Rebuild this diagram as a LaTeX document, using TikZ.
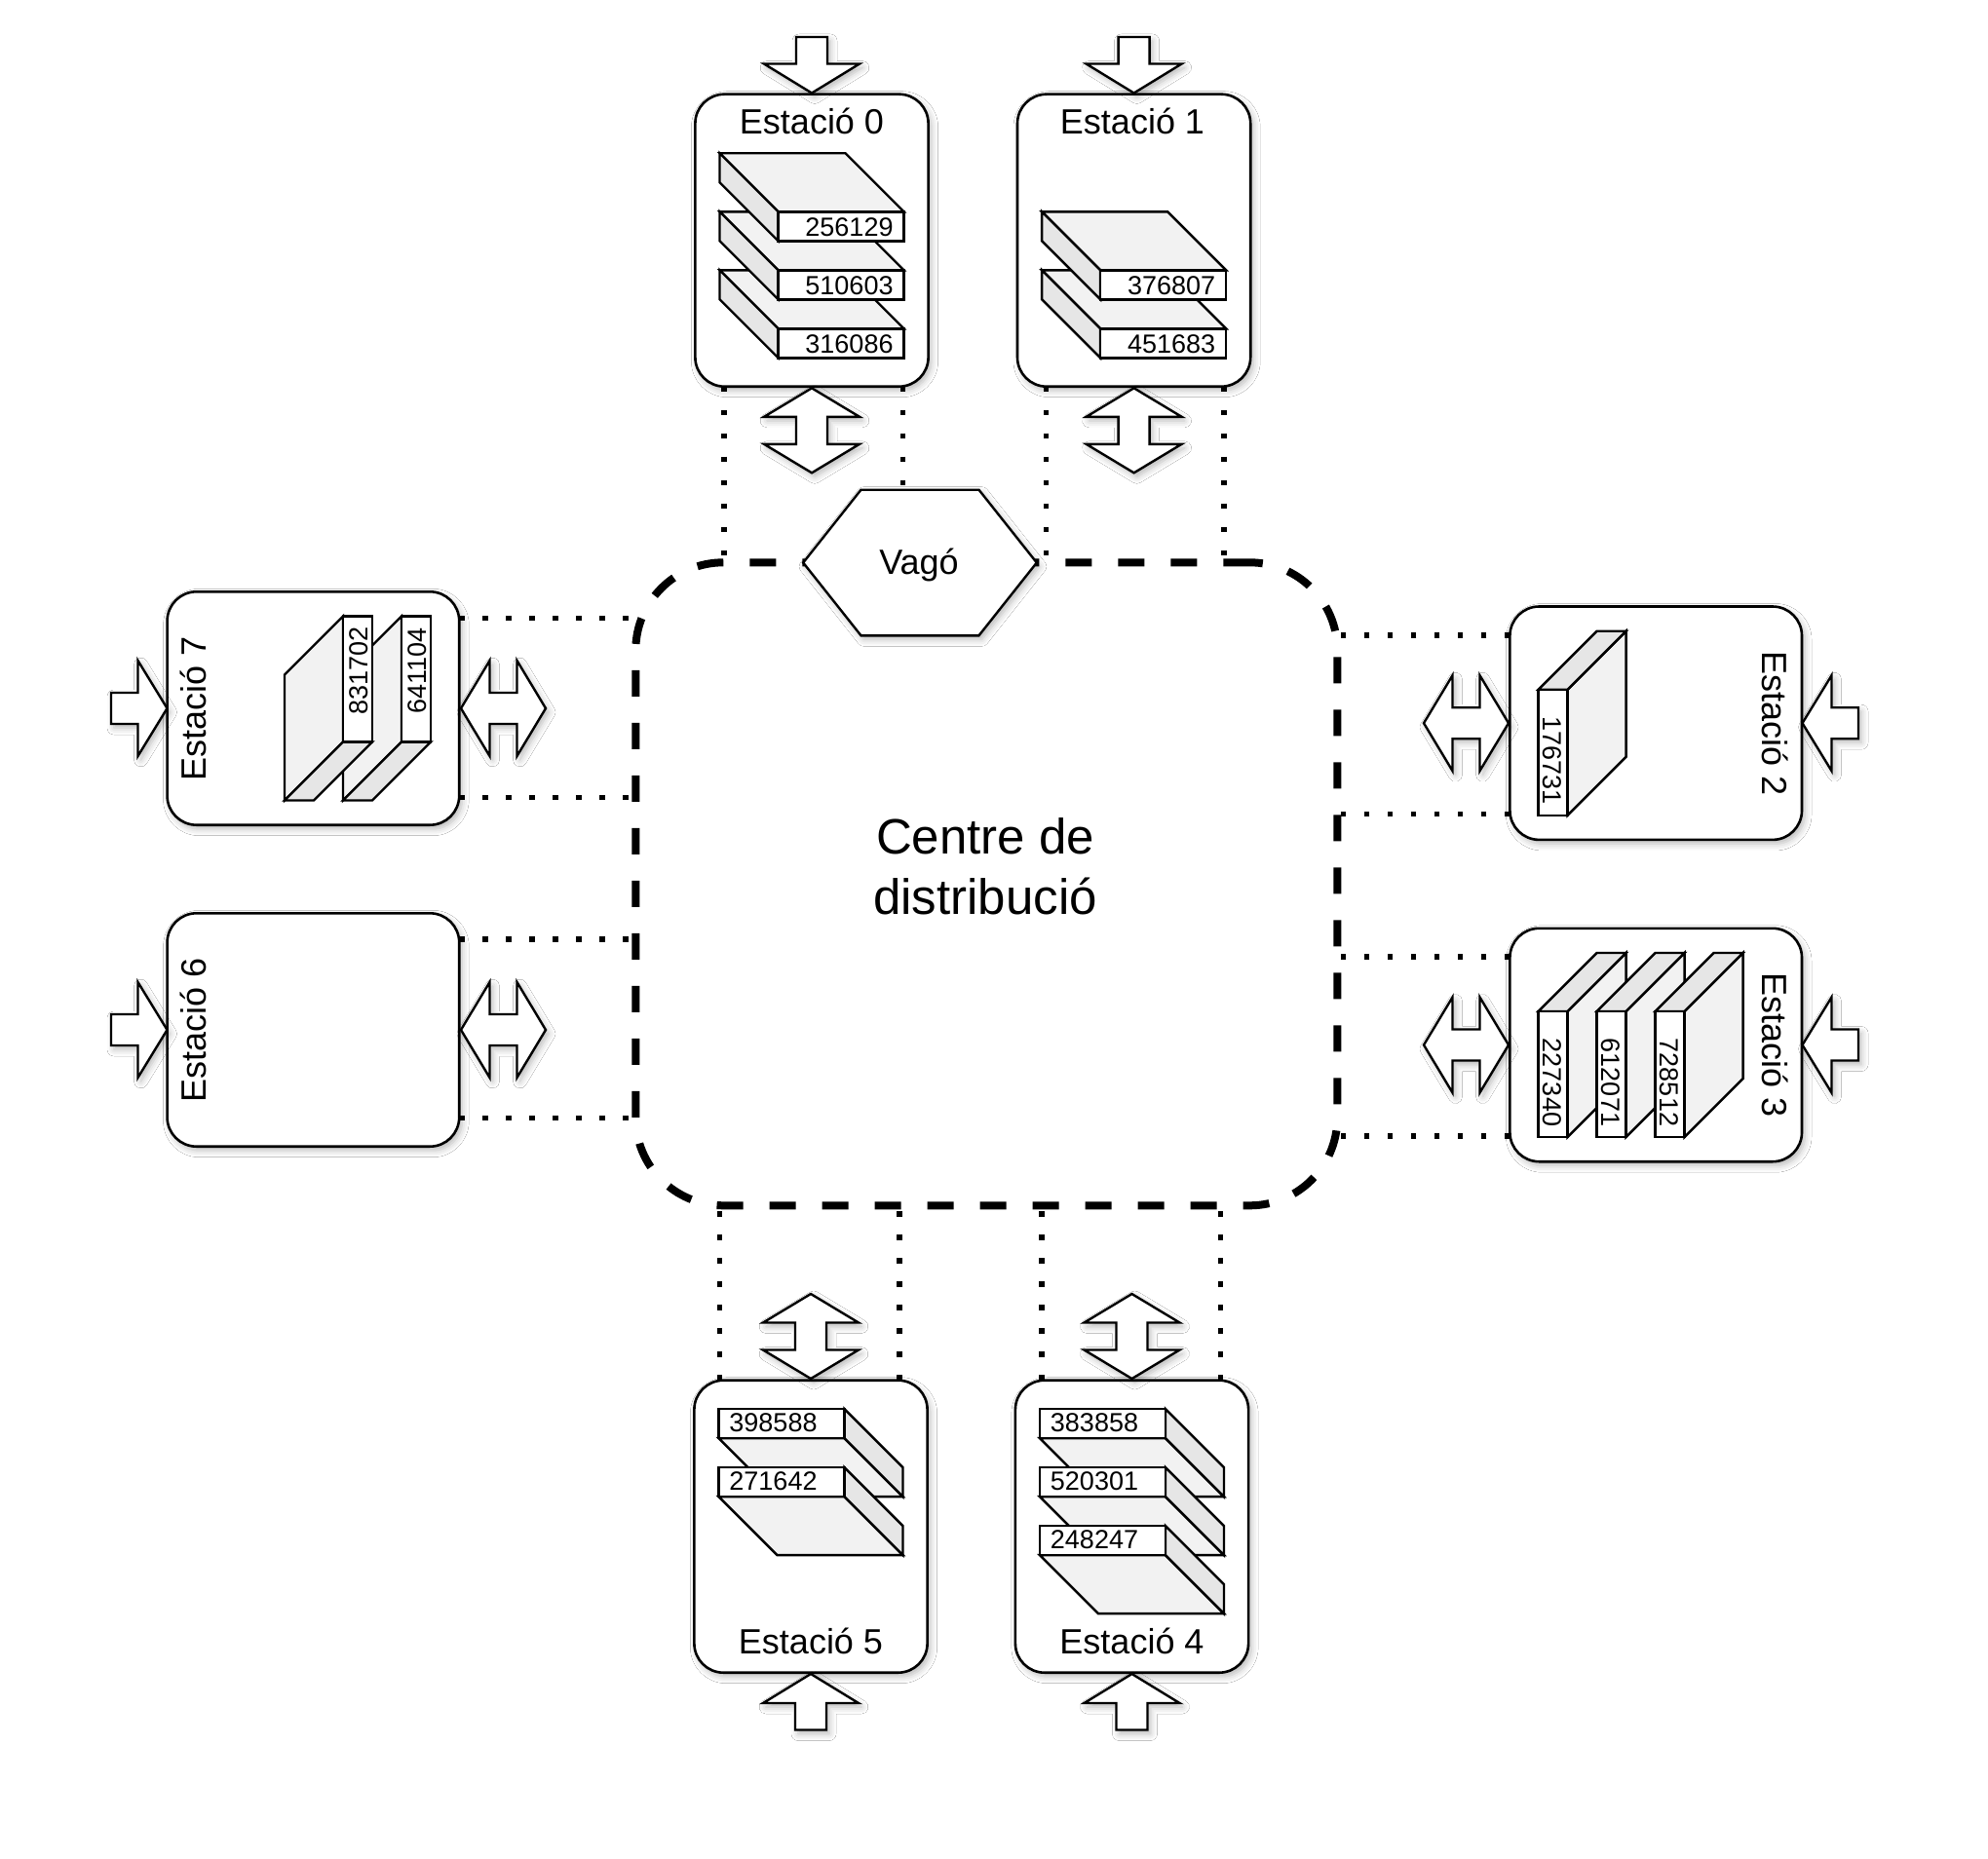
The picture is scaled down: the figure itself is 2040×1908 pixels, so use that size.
\documentclass[tikz,border=0pt]{standalone}
\usepackage{fontspec}
\setmainfont{Liberation Sans}
\usetikzlibrary{shadows.blur}
\definecolor{topface}{RGB}{242,242,242}
\definecolor{sideface}{RGB}{230,230,230}
\tikzset{
  softshadow/.style={blur shadow={shadow xshift=3pt, shadow yshift=-4pt, shadow blur radius=7pt, shadow opacity=28}},
  stationbox/.style={draw, line width=2.6pt, rounded corners=30pt, fill=white, inner sep=0pt, outer sep=0pt, softshadow},
  tb/.style={stationbox, minimum width=239.2pt, minimum height=300pt},
  lr/.style={stationbox, minimum width=299.6pt, minimum height=239.4pt},
  outline/.style={draw, line width=2.4pt, fill=white, line join=miter, softshadow},
  slabline/.style={draw, line width=2.4pt, line join=miter},
  dotline/.style={line width=5.5pt, dash pattern=on 5.5pt off 18.5pt},
  dashline/.style={draw, line width=8pt, dash pattern=on 27pt off 27pt},
  title/.style={font=\fontsize{36}{42}\selectfont, inner sep=0pt},
  slabtext/.style={font=\fontsize{27}{31}\selectfont, inner sep=0pt},
}
% input block arrow: tip at (#1,#2); #3 = perpendicular unit, #4 = pointing unit
\newcommand{\stinarrow}[4]{%
  \begin{scope}[shift={(#1,#2)}, x={#3}, y={#4}]
    \filldraw[outline] (-16,-57.5) -- (16,-57.5) -- (16,-30) -- (49,-30) -- (0,0)
      -- (-49,-30) -- (-16,-30) -- cycle;
  \end{scope}}
% double block arrow starting at (#1,#2)
\newcommand{\stdblarrow}[4]{%
  \begin{scope}[shift={(#1,#2)}, x={#3}, y={#4}]
    \filldraw[outline] (0,0) -- (49,29.5) -- (16,29.5) -- (16,57.5) -- (49,57.5) -- (0,87)
      -- (-49,57.5) -- (-16,57.5) -- (-16,29.5) -- (-49,29.5) -- cycle;
  \end{scope}}
% slab: front face centre (#1,#2), rotation #3, label #4, text rotation #5
\newcommand{\slabbox}[5]{%
  \begin{scope}[shift={(#1,#2)}, rotate=#3]
    \filldraw[slabline, fill=topface] (-64.5,-15) -- (64.5,-15) -- (4.5,-75) -- (-124.5,-75) -- cycle;
    \filldraw[slabline, fill=sideface] (-64.5,-15) -- (-64.5,15) -- (-124.5,-45) -- (-124.5,-75) -- cycle;
    \filldraw[slabline, fill=white] (-64.5,-15) rectangle (64.5,15);
    \node[slabtext, rotate=#5] at (8.5,1.2) {#4};
  \end{scope}}
\begin{document}
\begin{tikzpicture}[x=1pt, y=-1pt]
\useasboundingbox (0,0) rectangle (2040,1908);
\fill[white] (0,0) rectangle (2040,1908);

% centre
\node[dashline, rounded corners=90pt, minimum width=720pt, minimum height=660pt, inner sep=0pt, outer sep=0pt] (centre) at (1012.3,907.3) {};

% stations
\node[tb] (s0) at (833,246.7) {};
\node[tb] (s1) at (1163.6,246.7) {};
\node[tb] (s5) at (832,1566.7) {};
\node[tb] (s4) at (1161.5,1566.7) {};
\node[lr] (s7) at (321.4,727) {};
\node[lr] (s6) at (321.4,1057) {};
\node[lr] (s2) at (1699.2,742.2) {};
\node[lr] (s3) at (1699.2,1072.5) {};

% dotted links
\draw[dotline] ([xshift=29.5pt]s0.south west) -- ([xshift=29.5pt]s0.south west |- centre.north);
\draw[dotline] ([xshift=-26pt]s0.south east) -- ([xshift=-26pt]s0.south east |- centre.north);
\draw[dotline] ([xshift=29.3pt]s1.south west) -- ([xshift=29.3pt]s1.south west |- centre.north);
\draw[dotline] ([xshift=-27pt]s1.south east) -- ([xshift=-27pt]s1.south east |- centre.north);
\draw[dotline] ([xshift=26pt]s5.north west) -- ([xshift=26pt]s5.north west |- centre.south);
\draw[dotline] ([xshift=-28.7pt]s5.north east) -- ([xshift=-28.7pt]s5.north east |- centre.south);
\draw[dotline] ([xshift=27.3pt]s4.north west) -- ([xshift=27.3pt]s4.north west |- centre.south);
\draw[dotline] ([xshift=-28.8pt]s4.north east) -- ([xshift=-28.8pt]s4.north east |- centre.south);
\draw[dotline] ([yshift=-27pt]s7.north east) -- ([yshift=-27pt]s7.north east -| centre.west);
\draw[dotline] ([yshift=28.2pt]s7.south east) -- ([yshift=28.2pt]s7.south east -| centre.west);
\draw[dotline] ([yshift=-26.7pt]s6.north east) -- ([yshift=-26.7pt]s6.north east -| centre.west);
\draw[dotline] ([yshift=29.2pt]s6.south east) -- ([yshift=29.2pt]s6.south east -| centre.west);
\draw[dotline] ([yshift=-29.6pt]s2.north west) -- ([yshift=-29.6pt]s2.north west -| centre.east);
\draw[dotline] ([yshift=26.4pt]s2.south west) -- ([yshift=26.4pt]s2.south west -| centre.east);
\draw[dotline] ([yshift=-29pt]s3.north west) -- ([yshift=-29pt]s3.north west -| centre.east);
\draw[dotline] ([yshift=26pt]s3.south west) -- ([yshift=26pt]s3.south west -| centre.east);

% wagon
\node[inner sep=0pt, outer sep=0pt, minimum width=239.6pt, minimum height=149.6pt] (vago) at (944,577.5) {};
\filldraw[outline] (vago.west) -- ([xshift=59.3pt]vago.north west) -- ([xshift=-59.3pt]vago.north east)
  -- (vago.east) -- ([xshift=-59.3pt]vago.south east) -- ([xshift=59.3pt]vago.south west) -- cycle;
\node[title, anchor=base] (vagot) at (943,589) {Vagó};

% centre text
\node[align=center, inner sep=0pt, font=\fontsize{51}{62.3}\selectfont] (centret) at (1011,889) {Centre de\\distribució};

% input arrows
\stinarrow{833}{95.5}{(1pt,0pt)}{(0pt,-1pt)}
\stinarrow{1163.6}{95.5}{(1pt,0pt)}{(0pt,-1pt)}
\stinarrow{832}{1718}{(1pt,0pt)}{(0pt,1pt)}
\stinarrow{1161.5}{1718}{(1pt,0pt)}{(0pt,1pt)}
\stinarrow{171.5}{727}{(0pt,1pt)}{(1pt,0pt)}
\stinarrow{171.5}{1057}{(0pt,1pt)}{(1pt,0pt)}
\stinarrow{1849.5}{742.2}{(0pt,1pt)}{(-1pt,0pt)}
\stinarrow{1849.5}{1072.5}{(0pt,1pt)}{(-1pt,0pt)}

% double arrows
\stdblarrow{833}{398.3}{(1pt,0pt)}{(0pt,-1pt)}
\stdblarrow{1163.6}{398.3}{(1pt,0pt)}{(0pt,-1pt)}
\stdblarrow{832}{1415}{(1pt,0pt)}{(0pt,1pt)}
\stdblarrow{1161.5}{1415}{(1pt,0pt)}{(0pt,1pt)}
\stdblarrow{473}{727}{(0pt,1pt)}{(1pt,0pt)}
\stdblarrow{473}{1057}{(0pt,1pt)}{(1pt,0pt)}
\stdblarrow{1548}{742.2}{(0pt,1pt)}{(-1pt,0pt)}
\stdblarrow{1548}{1072.5}{(0pt,1pt)}{(-1pt,0pt)}

% slabs
\slabbox{863}{352.3}{0}{316086}{0}
\slabbox{863}{292.3}{0}{510603}{0}
\slabbox{863}{232.3}{0}{256129}{0}
\slabbox{1193.6}{352.3}{0}{451683}{0}
\slabbox{1193.6}{292.3}{0}{376807}{0}
\slabbox{427}{697}{90}{641104}{90}
\slabbox{367}{697}{90}{831702}{90}
\slabbox{1593.6}{772.2}{-90}{176731}{-90}
\slabbox{1593.6}{1102.5}{-90}{227340}{-90}
\slabbox{1653.6}{1102.5}{-90}{612071}{-90}
\slabbox{1713.6}{1102.5}{-90}{728512}{-90}
\slabbox{802}{1461.1}{180}{398588}{0}
\slabbox{802}{1521.1}{180}{271642}{0}
\slabbox{1131.5}{1461.1}{180}{383858}{0}
\slabbox{1131.5}{1521.1}{180}{520301}{0}
\slabbox{1131.5}{1581.1}{180}{248247}{0}

% titles
\node[title, anchor=base] (s0t) at (833,137.5) {Estació 0};
\node[title, anchor=base] (s1t) at (1162,137.5) {Estació 1};
\node[title, anchor=base] (s5t) at (832,1697) {Estació 5};
\node[title, anchor=base] (s4t) at (1161.5,1697) {Estació 4};
\node[title, anchor=base, rotate=90] (s7t) at (211,727) {Estació 7};
\node[title, anchor=base, rotate=90] (s6t) at (211,1057) {Estació 6};
\node[title, anchor=base, rotate=-90] (s2t) at (1808.5,742.2) {Estació 2};
\node[title, anchor=base, rotate=-90] (s3t) at (1808.5,1072.5) {Estació 3};
\end{tikzpicture}
\end{document}
